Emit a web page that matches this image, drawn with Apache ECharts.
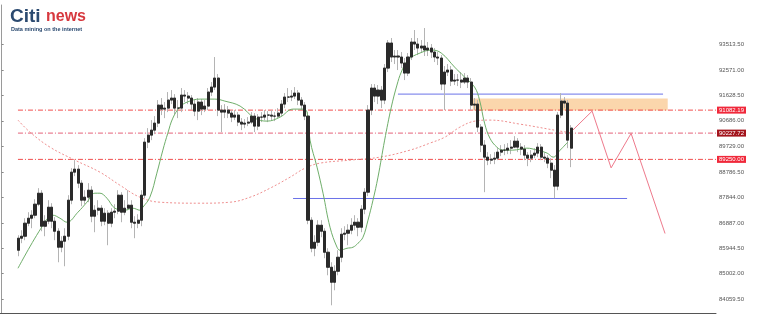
<!DOCTYPE html>
<html>
<head>
<meta charset="utf-8">
<script src="https://cdn.jsdelivr.net/npm/echarts@6/dist/echarts.min.js"></script>
<style>
html,body{margin:0;padding:0;background:#fff;}
#chart{width:765px;height:322px;}
</style>
</head>
<body>
<div id="chart"></div>
<script>
// ---- data ----
const categories = Array.from({length: 215}, (_, i) => String(i));
const firstIndex = 5;
const opens = [
85872,86319,86393,86877,87063,87175,87584,87993,86765,86951,
87472,86951,86579,85984,86207,86393,87733,88775,88887,88366,
87733,87845,88105,87137,87361,87435,86951,87249,86877,87286,
87324,87919,87286,87435,87547,86914,86877,86989,87919,89892,
90152,90338,90599,91269,91120,91157,91455,91530,91157,91157,
91641,91604,91530,91306,91045,91381,91120,91232,91753,91939,
92274,91083,91008,91083,90971,90822,90897,90636,90562,90599,
90636,90859,90487,90822,90822,90897,90897,90859,90859,90971,
91306,91567,91567,91604,91716,91455,91269,90859,86989,85946,
86170,86802,86579,85797,85239,84681,85090,85611,86467,86505,
86616,86802,86914,86728,87398,88031,91083,91902,91604,91827,
91455,92646,93577,93056,93093,93056,92832,92460,93056,93614,
93539,93390,93465,93316,93390,93242,93056,93018,92051,92497,
92572,92162,92199,92199,92125,92274,92125,91269,91306,90450,
89780,89334,89222,89259,89296,89520,89594,89594,89668,89706,
89929,89706,89631,89408,89296,89408,89482,89706,89334,89296,
89110,88850,88254,90897,91418,91343,89668];
const closes = [
86319,86393,86877,87063,87175,87584,87993,86765,86951,87472,
86951,86579,85984,86207,86393,87733,88775,88887,88366,87733,
87845,88105,87137,87361,87435,86951,87249,86877,87286,87324,
87919,87286,87435,87547,86914,86877,86989,87919,89892,90152,
90338,90599,91269,91120,91157,91455,91530,91157,91157,91641,
91604,91530,91306,91045,91381,91120,91232,91753,91939,92274,
91083,91008,91083,90971,90822,90897,90636,90562,90599,90636,
90859,90487,90822,90822,90897,90897,90859,90859,90971,91306,
91567,91567,91604,91716,91455,91269,90859,86989,85946,86170,
86802,86579,85797,85239,84681,85090,85611,86467,86505,86616,
86802,86914,86728,87398,88031,91083,91902,91604,91827,91455,
92646,93577,93056,93093,93056,92832,92460,93056,93614,93539,
93390,93465,93316,93390,93242,93056,93018,92051,92497,92572,
92162,92199,92199,92125,92274,92125,91269,91306,90450,89780,
89334,89222,89259,89296,89520,89594,89594,89668,89706,89929,
89706,89631,89408,89296,89408,89482,89706,89334,89296,89110,
88850,88254,90897,91418,91343,89966,90413];
const highs = [
86430,86616,87063,87286,87361,87770,88180,88105,87175,87733,
87621,87100,86691,86393,86691,87919,88924,89222,89036,88477,
88105,88366,88254,87547,87733,87547,87435,87361,87435,87584,
88105,88031,87733,88105,87733,87137,87212,88105,90041,90413,
90711,90859,91455,91530,91381,91753,91827,91678,91455,91902,
91827,91753,91641,91455,91530,91492,91455,91902,92125,93056,
92423,91269,91306,91232,91083,91083,91008,90785,90748,90822,
91008,90971,90934,91008,91083,91045,91083,91008,91157,91455,
91716,91902,91827,91939,91827,91567,91381,91008,87100,86430,
86989,86989,86691,85946,85425,85313,85872,86691,86765,86840,
87063,87175,87063,87547,88180,91269,92051,92051,92014,91976,
92795,93688,93763,93316,93316,93242,93018,93204,93763,94061,
93763,93688,94135,93614,93539,93390,93242,93130,92720,92795,
92720,92423,92423,92497,92460,92386,92274,91530,91455,90562,
89966,89520,89445,89520,89668,89780,89817,89855,89966,90115,
90041,89855,89780,89520,89594,89668,89855,89817,89520,89408,
89296,89036,91008,91716,91567,91455,90524];
const lows = [
85649,86133,86244,86765,86691,87063,87510,86579,86393,86840,
86691,86244,85425,85797,85276,86244,87584,88626,88180,87510,
87584,87658,86914,86542,87175,86765,86802,86058,86728,87063,
87212,86914,87175,87361,86691,86319,86691,86765,87807,89668,
89966,90189,90450,90897,90785,91008,91306,90934,90785,91008,
91381,91306,91083,90859,90711,90897,91008,91083,91604,91827,
90859,90264,90785,90785,90636,90711,90487,90338,90413,90487,
90562,90264,90338,90636,90711,90636,90711,90673,90785,90859,
91157,91381,91418,91492,91269,91083,90711,86840,85797,85649,
86021,86356,85574,84941,83825,84383,84941,85425,86244,86058,
86467,86616,86393,86542,87212,87882,90897,91381,91306,91157,
91306,92497,92869,92795,92572,92646,92199,92349,92944,93316,
93130,93204,93093,93093,93018,92869,92758,91827,91083,92349,
91976,92014,91976,91902,92051,91902,91083,91083,90264,89520,
88031,89036,89073,89073,89222,89371,89408,89445,89445,89668,
89520,89408,89222,88998,89147,89296,89334,89222,89147,88924,
88552,87807,88105,90785,91157,89668,88961];

// moving averages: [bar position, price]
const maFast = [
[4.9,85202],[12.4,86802],[15.4,87175],[17.5,87063],[19.6,86914],[22.9,87286],[25.6,87658],[28,87993],
[29.5,87993],[31.6,87807],[34,87435],[37,87361],[39.4,87435],[41.5,87361],[42.4,87472],[44.5,87845],
[46.6,88738],[48.4,89594],[49.9,90227],[51.4,90785],[53.5,91194],[55.7,91381],[59.6,91492],[64,91492],
[67,91418],[71.6,91232],[76,90785],[79.7,90673],[83.6,90822],[87.5,91120],[90.5,91120],[91.7,91008],
[92.6,89966],[94.7,88961],[96.5,87993],[98.6,86728],[100.7,85984],[101.6,85872],[103.7,85946],[105.5,85984],
[107,86133],[108.5,86356],[110,86989],[111.5,87733],[113,88589],[115,89966],[117,91194],[118.7,92014],
[120,92497],[122,92944],[125.6,93204],[129.2,93316],[132,93204],[136,92683],[139,92311],[142,91939],
[143.5,91455],[145,90599],[146.6,90041],[148.7,89706],[150.5,89594],[153.5,89594],[157.7,89668],[160.8,89594],
[163.8,89482],[165.6,89334],[167.7,89594],[170,89892]];
const maSlow = [
[4.9,90711],[8.5,90264],[14.5,89706],[22,89222],[29.5,88775],[35.5,88291],[41.5,87845],[47.5,87658],
[59.6,87621],[68.6,87658],[74.6,87845],[80.6,88180],[86.6,88589],[91.1,88924],[95.6,89110],[104.6,89222],
[113.6,89334],[122.6,89594],[128.6,89855],[133.1,90078],[137.6,90450],[142.1,90673],[146.6,90711],[155.6,90562],
[167.7,90301],[171.6,90227]];
const projection = [[171.5,90338],[177.3,91045],[183,88935],[189,90216],[199.2,86494]];

const tickValues = [93513.5,92571,91628.5,90686,89729,88786.5,87844,86887,85944.5,85002,84059.5];
const tickLabels = ['93513.50','92571.00','91628.50','90686.00','89729.00','88786.50','87844.00','86887.00','85944.50','85002.00','84059.50'];

const levelValues = [91082.19, 90227.72, 89250.00];
const levelLabels = ['91082.19','90227.72','89250.00'];
const levelSpan = [4.9, 214.5];
const rangeTop = {from: 119, to: 198.6, value: 91678};
const rangeBottom = {from: 87.5, to: 187.8, value: 87796};
const zone = {from: 141.5, to: 200, high: 91511, low: 91064};

// ---- build ----
const wickData = [], bodyData = [];
for (let i = 0; i < categories.length; i++) {
  const k = i - firstIndex;
  if (k >= 0 && k < closes.length) {
    const o = opens[k], c = closes[k];
    wickData.push([o, c, lows[k], highs[k]]);
    bodyData.push([o, c, Math.min(o, c), Math.max(o, c)]);
  } else { wickData.push('-'); bodyData.push('-'); }
}

const levelLineColors = ['#ef3b3b', '#e2506a', '#ef3b3b'];
const levelBoxColors = ['#f0283a', '#a3141c', '#f0283a'];
const levelSeries = levelValues.map((v, j) => ({
  type: 'line', xAxisIndex: 1, symbol: 'none', z: 1, silent: true,
  color: levelLineColors[j],
  data: [[levelSpan[0], v], [levelSpan[1], v]],
  lineStyle: {color: levelLineColors[j], type: [5, 2, 1, 2], width: 1, opacity: 0.9},
  endLabel: {show: true, distance: 1, formatter: levelLabels[j], color: '#ffffff',
             backgroundColor: levelBoxColors[j], fontSize: 6, fontFamily: 'Liberation Sans',
             padding: [0, 2, 0, 2], lineHeight: 7},
  emphasis: {disabled: true}
}));
const blueSeries = [rangeTop, rangeBottom].map(r => ({
  type: 'line', xAxisIndex: 1, symbol: 'none', z: 1, silent: true,
  data: [[r.from, r.value], [r.to, r.value]],
  lineStyle: {color: '#6b72e8', type: 'solid', width: 1},
  emphasis: {disabled: true}
}));

const chart = echarts.init(document.getElementById('chart'), null, {renderer: 'canvas'});
chart.setOption({
  animation: false,
  backgroundColor: '#fff',
  grid: {left: 0, right: 49, top: 5, bottom: 9},
  xAxis: [
    {type: 'category', data: categories, boundaryGap: true,
     axisLine: {show: true, lineStyle: {color: '#555', width: 1}}, axisTick: {show: false},
     axisLabel: {show: false}, splitLine: {show: false}},
    {type: 'value', min: -0.5, max: 214.5, show: false}
  ],
  yAxis: {
    type: 'value', position: 'right', min: 83538, max: 94991,
    axisLine: {show: true, lineStyle: {color: '#9a9a9a'}},
    axisTick: {show: true, length: 2, customValues: tickValues, lineStyle: {color: '#888'}},
    axisLabel: {show: true, customValues: tickValues, fontSize: 6, color: '#555', margin: 3,
      fontFamily: 'Liberation Sans', formatter: v => { const j = tickValues.indexOf(v); return j >= 0 ? tickLabels[j] : ''; }},
    splitLine: {show: false}
  },
  graphic: [
    {type: 'text', left: 10, top: 7, style: {text: 'Citi', font: 'bold 19px "Liberation Sans"', fill: '#2b4a70'}},
    {type: 'text', left: 46, top: 9, style: {text: 'news', font: 'bold 16px "Liberation Sans"', fill: '#d7383e'}},
    {type: 'text', left: 11, top: 26, style: {text: 'Data mining on the internet', font: 'bold 5.5px "Liberation Sans"', fill: '#2b4a70'}}
  ],
  series: levelSeries.concat(blueSeries).concat([
    {type: 'line', xAxisIndex: 1, data: projection, symbol: 'none', z: 1, silent: true,
     lineStyle: {color: '#ee7a8c', width: 1},
     markArea: {silent: true, itemStyle: {color: '#fbd4a8', opacity: 0.95},
       data: [[{coord: [zone.from, zone.high]}, {coord: [zone.to, zone.low]}]]}},
    {type: 'line', xAxisIndex: 1, data: maSlow, symbol: 'none', smooth: 0.4, z: 2, silent: true,
     lineStyle: {color: '#ef8f8f', width: 1, type: [2, 2]}},
    {type: 'candlestick', name: 'wick', data: wickData, barWidth: 2.6, z: 3,
     itemStyle: {color: '#b4b4b4', color0: '#b4b4b4', borderColor: '#b4b4b4', borderColor0: '#b4b4b4', borderWidth: 1}},
    {type: 'line', xAxisIndex: 1, data: maFast, symbol: 'none', smooth: 0.4, z: 4, silent: true,
     lineStyle: {color: '#6fae6a', width: 1}},
    {type: 'candlestick', name: 'body', data: bodyData, barWidth: 2.6, z: 5,
     itemStyle: {color: '#2a2a2a', color0: '#2a2a2a', borderColor: '#2a2a2a', borderColor0: '#2a2a2a', borderWidth: 1}}
  ])
});
</script>
</body>
</html>
